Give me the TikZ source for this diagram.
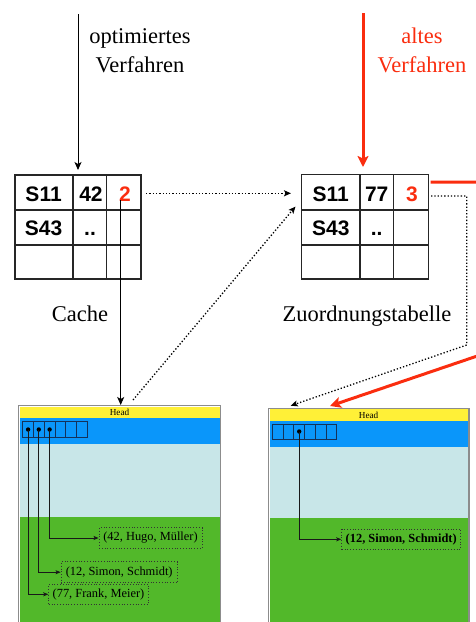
\documentclass[tikz,border=0pt]{standalone}
\usepackage{fontspec}
\setmainfont{Liberation Serif}
\setsansfont{Liberation Sans}
\usetikzlibrary{arrows.meta}
\definecolor{myred}{RGB}{250,45,15}
\definecolor{hyellow}{RGB}{255,240,55}
\definecolor{hblue}{RGB}{10,150,250}
\definecolor{hlight}{RGB}{200,230,232}
\definecolor{hgreen}{RGB}{82,184,42}
\definecolor{hborder}{RGB}{140,140,140}
\definecolor{cellline}{RGB}{20,50,90}
\begin{document}
\begin{tikzpicture}[x=1pt,y=-1pt,
  tblline/.style={line width=1.3pt,draw=black!85},
  tbltext/.style={font=\sffamily\bfseries\fontsize{21}{21}\selectfont,anchor=base,inner sep=0pt},
  lbl/.style={font=\fontsize{22.5}{27}\selectfont,anchor=base,inner sep=0pt},
  blackarrow/.style={line width=1pt,-{Stealth[length=8pt,width=7pt,inset=2pt]}},
  redarrow/.style={line width=3pt,myred,-{Stealth[length=11pt,width=11pt,inset=2.5pt]}},
  dotarrow/.style={line width=1.3pt,dotted,-{Stealth[length=7pt,width=6pt,inset=1.5pt]}},
  heapborder/.style={draw=hborder,line width=1.4pt},
  cellbox/.style={draw=cellline,line width=0.8pt},
  ptr/.style={line width=0.9pt,draw=black!90,-{Stealth[length=5pt,width=4pt,inset=1pt]}},
  tuple/.style={draw=black!80,dotted,line width=0.8pt,inner sep=0pt,font=\fontsize{12.4}{13}\selectfont},
  headtxt/.style={font=\fontsize{9.2}{10}\selectfont,inner sep=0pt}
]
\clip (0,0) rectangle (476,622);

% ---------- top labels ----------
\node[lbl] (opt1) at (140,43) {optimiertes};
\node[lbl] (opt2) at (140,72.7) {Verfahren};
\node[lbl,text=myred] (alt1) at (422,43) {altes};
\node[lbl,text=myred] (alt2) at (422,72.7) {Verfahren};

% ---------- left table (Cache) ----------
\draw[tblline] (15,175) rectangle (141,279);
\draw[tblline] (15,210) -- (141,210) (15,245) -- (141,245)
               (73,175) -- (73,279) (106.5,175) -- (106.5,279);
\node[tbltext] (l11) at (43.6,201) {S11};
\node[tbltext] (l12) at (91,201) {42};
\node[tbltext,text=myred] (l13) at (125,201) {2};
\node[tbltext] (l21) at (43.6,235.7) {S43};
\node[tbltext] (l22) at (90,235.7) {..};
\node[lbl] (cache) at (80,321.5) {Cache};

% ---------- right table (Zuordnungstabelle) ----------
\draw[tblline] (301.7,174.5) rectangle (428.7,279);
\draw[tblline] (301.7,210) -- (428.7,210) (301.7,245) -- (428.7,245)
               (360,174.5) -- (360,279) (393.3,174.5) -- (393.3,279);
\node[tbltext] (r11) at (330.8,201) {S11};
\node[tbltext] (r12) at (376.7,201) {77};
\node[tbltext,text=myred] (r13) at (412,201) {3};
\node[tbltext] (r21) at (330.8,235.7) {S43};
\node[tbltext] (r22) at (376.7,235.7) {..};
\node[lbl] (zuord) at (367,321.5) {Zuordnungstabelle};

% ---------- left heap ----------
\fill[hyellow] (19.5,406.5) rectangle (219.5,418.3);
\fill[hblue] (19.5,418.3) rectangle (219.5,444);
\fill[hlight] (19.5,444) rectangle (219.5,516.7);
\fill[hgreen] (19.5,516.7) rectangle (219.5,630);
\draw[heapborder] (18.3,405.7) rectangle (220.7,640);
\node[headtxt] (headL) at (119.5,412.6) {Head};
\foreach \i in {0,...,5}{
  \draw[cellbox] ({22.7+\i*10.77},421.7) rectangle ({22.7+(\i+1)*10.77},437.3);
}
\coordinate (dL1) at (28.1,429.5);
\coordinate (dL2) at (38.8,429.5);
\coordinate (dL3) at (49.6,429.5);
\foreach \c in {dL1,dL2,dL3}{\fill[black] (\c) circle (2.2pt);}
\node[tuple,minimum width=103pt,minimum height=20.6pt] (t1) at (150.5,538) {(42, Hugo, Müller)};
\node[tuple,minimum width=116.3pt,minimum height=21pt] (t2) at (119.2,572.2) {(12, Simon, Schmidt)};
\node[tuple,minimum width=99.6pt,minimum height=20pt] (t3) at (98.5,594.3) {(77, Frank, Meier)};
\draw[ptr] (dL3) |- (t1.west);
\draw[ptr] (dL2) |- (t2.west);
\draw[ptr] (dL1) |- (t3.west);

% ---------- right heap ----------
\fill[hyellow] (269.5,409) rectangle (468,420.7);
\fill[hblue] (269.5,420.7) rectangle (468,446.7);
\fill[hlight] (269.5,446.7) rectangle (468,517.7);
\fill[hgreen] (269.5,517.7) rectangle (468,630);
\draw[heapborder] (268.3,408.3) rectangle (469,640);
\node[headtxt] (headR) at (368.6,415) {Head};
\foreach \i in {0,...,5}{
  \draw[cellbox] ({272.3+\i*10.73},424) rectangle ({272.3+(\i+1)*10.73},439.3);
}
\coordinate (dR3) at (299.2,431.5);
\fill[black] (dR3) circle (2.2pt);
\node[tuple,minimum width=119pt,minimum height=20pt,font=\bfseries\fontsize{12.4}{13}\selectfont] (tr) at (401.2,539.3) {(12, Simon, Schmidt)};
\draw[ptr] (dR3) |- (tr.west);

% ---------- connectors ----------
\coordinate (optTop) at (78,14);
\coordinate (cacheIn) at (78,170);
\draw[blackarrow] (optTop) -- (cacheIn);

\coordinate (altTop) at (363,13);
\coordinate (zuordIn) at (363,167);
\draw[redarrow] (altTop) -- (zuordIn);

\coordinate (cacheOut) at (146,193.3);
\coordinate (zuordL) at (291,193.3);
\draw[dotarrow] (cacheOut) -- (zuordL);

\coordinate (heapLtop) at (133,400);
\coordinate (zuordLL) at (295.5,206.5);
\draw[dotarrow] (heapLtop) -- (zuordLL);

\coordinate (cellTwo) at (120.7,200);
\coordinate (heapLin) at (120.7,405);
\draw[blackarrow] (cellTwo) -- (heapLin);

\coordinate (redOut) at (430.5,182);
\coordinate (heapRredIn) at (330,406);
\draw[redarrow] (redOut) -- (492,182) -- (492,351) -- (heapRredIn);

\coordinate (dotOut) at (431,196);
\coordinate (heapRdotIn) at (290.7,405.7);
\draw[dotarrow] (dotOut) -- (466.7,196) -- (466.7,345) -- (heapRdotIn);
\end{tikzpicture}
\end{document}
